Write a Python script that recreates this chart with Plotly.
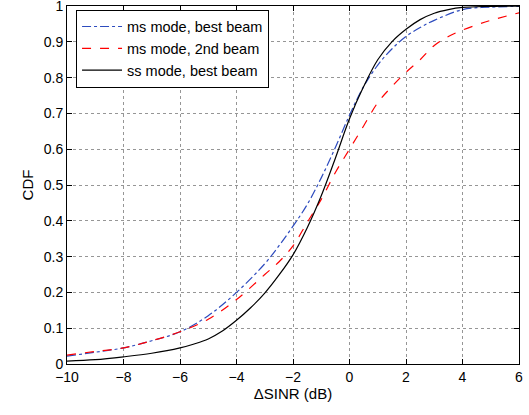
import plotly.graph_objects as go

# valores
x_ms_best = [-10, -9, -8, -7, -6, -5, -4, -3, -2.5, -2, -1.5, -1, -0.5, 0, 0.5, 1, 1.5, 2, 2.5, 3, 4, 5, 6]
y_ms_best = [0.022, 0.033, 0.045, 0.065, 0.09, 0.135, 0.2, 0.28, 0.33, 0.385, 0.445, 0.52, 0.605, 0.695, 0.775, 0.835, 0.88, 0.915, 0.94, 0.96, 0.99, 0.997, 0.999]

x_ms_2nd = [-10, -9, -8, -7, -6, -5, -4, -3, -2.5, -2, -1.5, -1, -0.5, 0, 0.5, 1, 1.5, 2, 2.5, 3, 3.5, 4, 4.6, 5, 6]
y_ms_2nd = [0.025, 0.035, 0.045, 0.065, 0.09, 0.125, 0.18, 0.25, 0.285, 0.33, 0.395, 0.46, 0.535, 0.60, 0.665, 0.73, 0.775, 0.815, 0.85, 0.89, 0.915, 0.933, 0.95, 0.96, 0.981]

x_ss_best = [-10, -9, -8, -7, -6, -5.5, -5, -4.5, -4, -3.5, -3, -2.5, -2, -1.5, -1, -0.5, 0, 0.5, 1, 1.5, 2, 2.5, 3, 3.5, 4, 5, 6]
y_ss_best = [0.008, 0.012, 0.02, 0.03, 0.045, 0.056, 0.07, 0.092, 0.122, 0.157, 0.198, 0.248, 0.305, 0.38, 0.47, 0.575, 0.685, 0.775, 0.85, 0.9, 0.935, 0.962, 0.98, 0.99, 0.996, 0.999, 1.0]

x_ticks = [-10, -8, -6, -4, -2, 0, 2, 4, 6]
y_ticks = [0, 0.1, 0.2, 0.3, 0.4, 0.5, 0.6, 0.7, 0.8, 0.9, 1]

fig = go.Figure()

fig.add_trace(go.Scatter(
    x=x_ms_best, y=y_ms_best, mode='lines', name='ms mode, best beam',
    line=dict(color='rgb(45,75,190)', width=1.2, dash='dashdot', shape='spline', smoothing=1)
))
fig.add_trace(go.Scatter(
    x=x_ms_2nd, y=y_ms_2nd, mode='lines', name='ms mode, 2nd beam',
    line=dict(color='rgb(255,0,0)', width=1.2, dash='dash', shape='spline', smoothing=1)
))
fig.add_trace(go.Scatter(
    x=x_ss_best, y=y_ss_best, mode='lines', name='ss mode, best beam',
    line=dict(color='black', width=1.2, shape='spline', smoothing=1)
))

axis_common = dict(
    showline=True, linecolor='black', linewidth=1, mirror='ticks',
    ticks='inside', ticklen=5, tickcolor='black',
    showgrid=True, gridcolor='rgb(150,150,150)', griddash='dot', gridwidth=1,
    zeroline=False, tickfont=dict(size=14, color='black'),
    automargin=False, ticklabeloverflow='allow',
)

fig.update_layout(
    width=529, height=415,
    margin=dict(l=67, r=10, t=6, b=51),
    paper_bgcolor='white', plot_bgcolor='white',
    font=dict(family='Liberation Sans, Arial, sans-serif', color='black'),
    xaxis=dict(axis_common, range=[-10, 6.0001], tickvals=x_ticks,
               title=dict(text='ΔSINR (dB)', font=dict(size=15), standoff=4)),
    yaxis=dict(axis_common, range=[0, 1.0001], tickvals=y_ticks,
               title=dict(text='CDF', font=dict(size=15), standoff=6)),
    legend=dict(x=0.02, y=0.99, xanchor='left', yanchor='top',
                bgcolor='white', bordercolor='black', borderwidth=1,
                font=dict(size=14.5), tracegroupgap=0, itemwidth=40),
    showlegend=True,
)

# quitar el margen por defecto del body para que la figura ocupe la ventana
fig.write_html("out.html", config={'displayModeBar': False},
               post_script="document.body.style.margin='0';")
